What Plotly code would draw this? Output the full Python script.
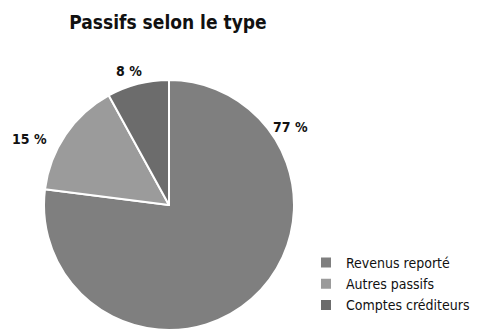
import plotly.graph_objects as go

# Liabilities by type (percent)
categories = ["Revenus reporté", "Autres passifs", "Comptes créditeurs"]
values = [77, 15, 8]
colors = ["#7f7f7f", "#9b9b9b", "#6c6c6c"]

# label anchor points (paper coordinates) for each slice's percentage
label_x = [0.604, 0.062, 0.268]
label_y = [0.615, 0.578, 0.785]

W, H = 481, 330
cx, cy, r = 169, 205, 125
FONT = "DejaVu Sans Condensed, Liberation Sans Narrow, Arial Narrow, sans-serif"

fig = go.Figure(
    go.Pie(
        labels=categories,
        values=values,
        sort=False,
        direction="clockwise",
        rotation=0,
        marker=dict(colors=colors, line=dict(color="white", width=2)),
        textinfo="none",
        hoverinfo="label+percent",
        domain=dict(
            x=[(cx - r) / W, (cx + r) / W],
            y=[(H - (cy + r)) / H, (H - (cy - r)) / H],
        ),
    )
)

total = sum(values)
for v, x, y in zip(values, label_x, label_y):
    fig.add_annotation(
        x=x, y=y, xref="paper", yref="paper",
        xanchor="center", yanchor="middle",
        text=f"<b>{round(100 * v / total)} %</b>",
        showarrow=False,
        font=dict(family=FONT, size=14, color="#111"),
    )

fig.update_layout(
    width=W,
    height=H,
    margin=dict(l=0, r=0, t=0, b=0),
    paper_bgcolor="white",
    plot_bgcolor="white",
    title=dict(
        text="<b>Passifs selon le type</b>",
        x=168 / W, xanchor="center",
        y=1 - 22 / H, yanchor="middle",
        font=dict(family=FONT, size=19, color="#111"),
    ),
    legend=dict(
        x=306 / W, xanchor="left",
        y=1 - 247 / H, yanchor="top",
        font=dict(family=FONT, size=14, color="#111"),
        traceorder="normal",
        itemclick=False,
    ),
    showlegend=True,
)

fig.write_html("out.html")
